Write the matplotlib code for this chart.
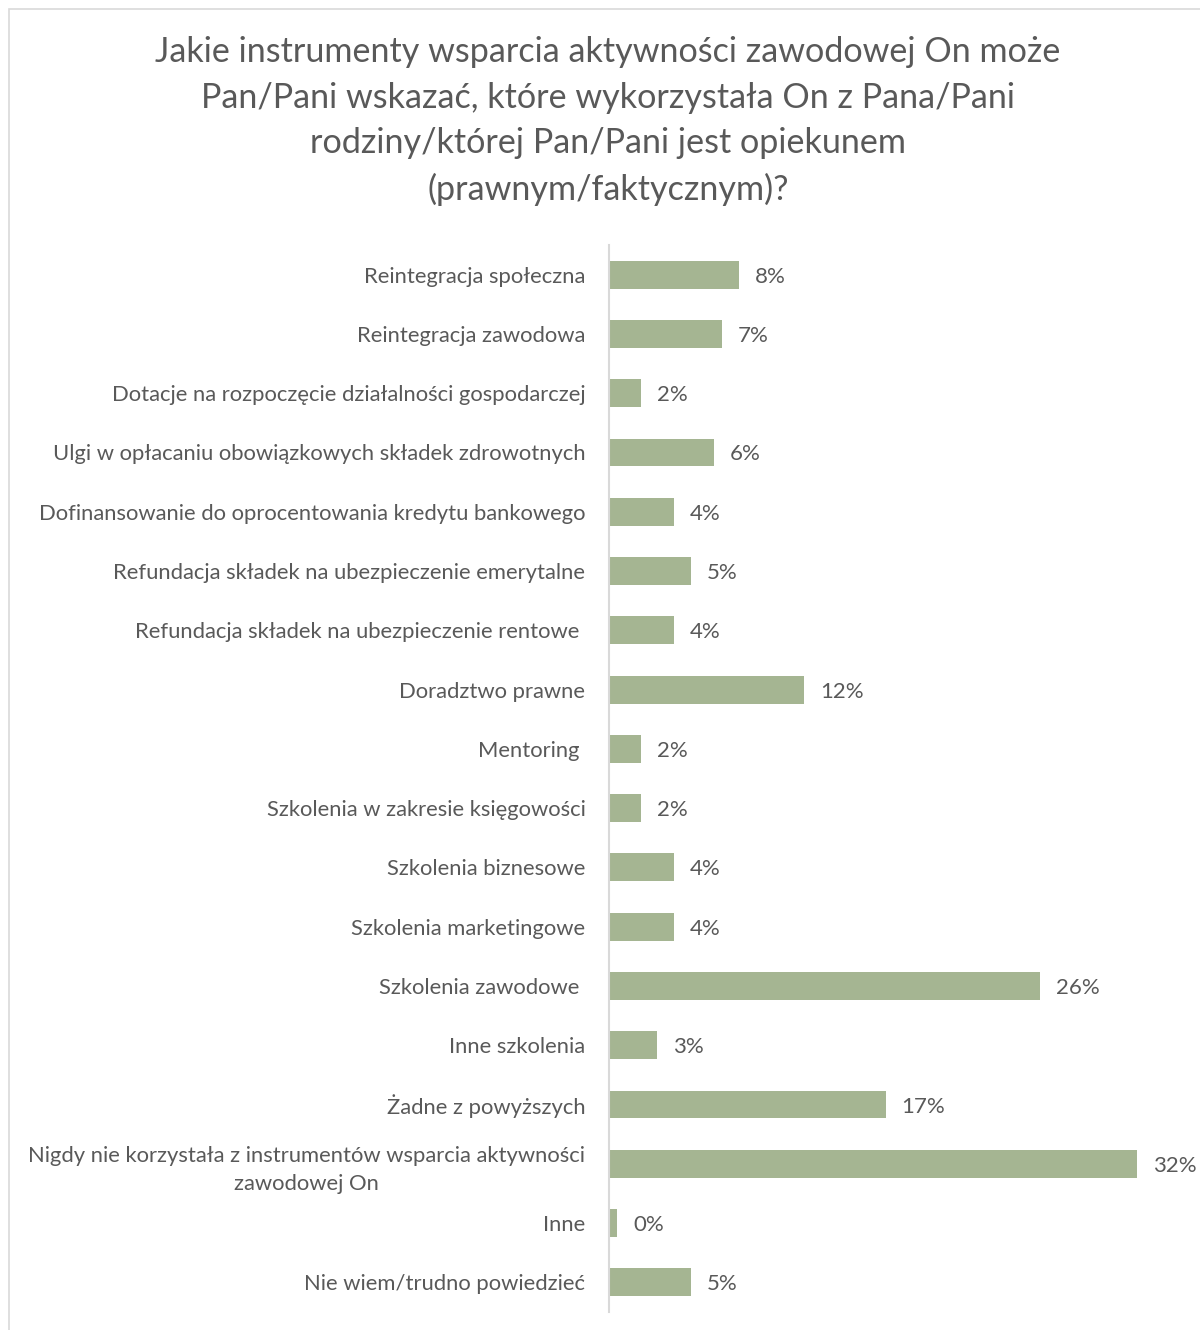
import matplotlib
matplotlib.use("Agg")
import matplotlib.pyplot as plt
from matplotlib.patches import Rectangle

# Dane z wykresu (w procentach)
kategorie = [
    "Reintegracja społeczna",
    "Reintegracja zawodowa",
    "Dotacje na rozpoczęcie działalności gospodarczej",
    "Ulgi w opłacaniu obowiązkowych składek zdrowotnych",
    "Dofinansowanie do oprocentowania kredytu bankowego",
    "Refundacja składek na ubezpieczenie emerytalne",
    "Refundacja składek na ubezpieczenie rentowe ",
    "Doradztwo prawne",
    "Mentoring ",
    "Szkolenia w zakresie księgowości",
    "Szkolenia biznesowe",
    "Szkolenia marketingowe",
    "Szkolenia zawodowe ",
    "Inne szkolenia",
    "Żadne z powyższych",
    "Nigdy nie korzystała z instrumentów wsparcia aktywności\nzawodowej On",
    "Inne",
    "Nie wiem/trudno powiedzieć",
]
wartosci = [7.8, 6.8, 1.9, 6.3, 3.9, 4.9, 3.9, 11.7, 1.9, 1.9, 3.9, 3.9, 25.9, 2.9, 16.6, 31.7, 0.5, 4.9]
etykiety = ["8%", "7%", "2%", "6%", "4%", "5%", "4%", "12%", "2%", "2%",
            "4%", "4%", "26%", "3%", "17%", "32%", "0%", "5%"]

tytul = ("Jakie instrumenty wsparcia aktywności zawodowej On może\n"
         "Pan/Pani wskazać, które wykorzystała On z Pana/Pani\n"
         "rodziny/której Pan/Pani jest opiekunem\n"
         "(prawnym/faktycznym)?")

kolor_slupka = "#A5B592"
kolor_tekstu = "#595959"

plt.rcParams['font.family'] = ['Lato', 'DejaVu Sans']

fig = plt.figure(figsize=(12, 13.3), dpi=100)
ax = fig.add_axes([609 / 1200, 1 - 1312 / 1330, (1192 - 609) / 1200, (1312 - 245) / 1330])

# ramka wokół wykresu
fig.patches.append(Rectangle((9 / 1200, -0.1), 1.2, 1 - 9 / 1330 + 0.1,
                             transform=fig.transFigure, fill=False,
                             edgecolor="#D9D9D9", linewidth=1.2))

y = list(range(len(kategorie)))
ax.barh(y, wartosci, height=0.47, color=kolor_slupka)
ax.set_xlim(0, 35)
ax.set_ylim(len(kategorie) - 0.5, -0.5)

for yi, v, lab in zip(y, wartosci, etykiety):
    ax.annotate(lab, (v, yi), xytext=(11.5, 0), textcoords="offset points",
                va="center_baseline", ha="left", fontsize=16, color=kolor_tekstu)

ax.set_yticks(y)
ax.set_yticklabels(kategorie, fontsize=15.8, color=kolor_tekstu, multialignment="center")
for t in ax.get_yticklabels():
    t.set_linespacing(1.5)
ax.tick_params(axis="y", length=0, pad=17)
ax.set_xticks([])
for s in ["top", "right", "bottom"]:
    ax.spines[s].set_visible(False)
ax.spines["left"].set_color("#D9D9D9")
ax.spines["left"].set_linewidth(1.5)

fig.text(608 / 1200, 1 - 36 / 1330, tytul, ha="center", va="top", fontsize=24.6,
         color=kolor_tekstu, linespacing=1.52)

fig.savefig("out.png", dpi=100)
